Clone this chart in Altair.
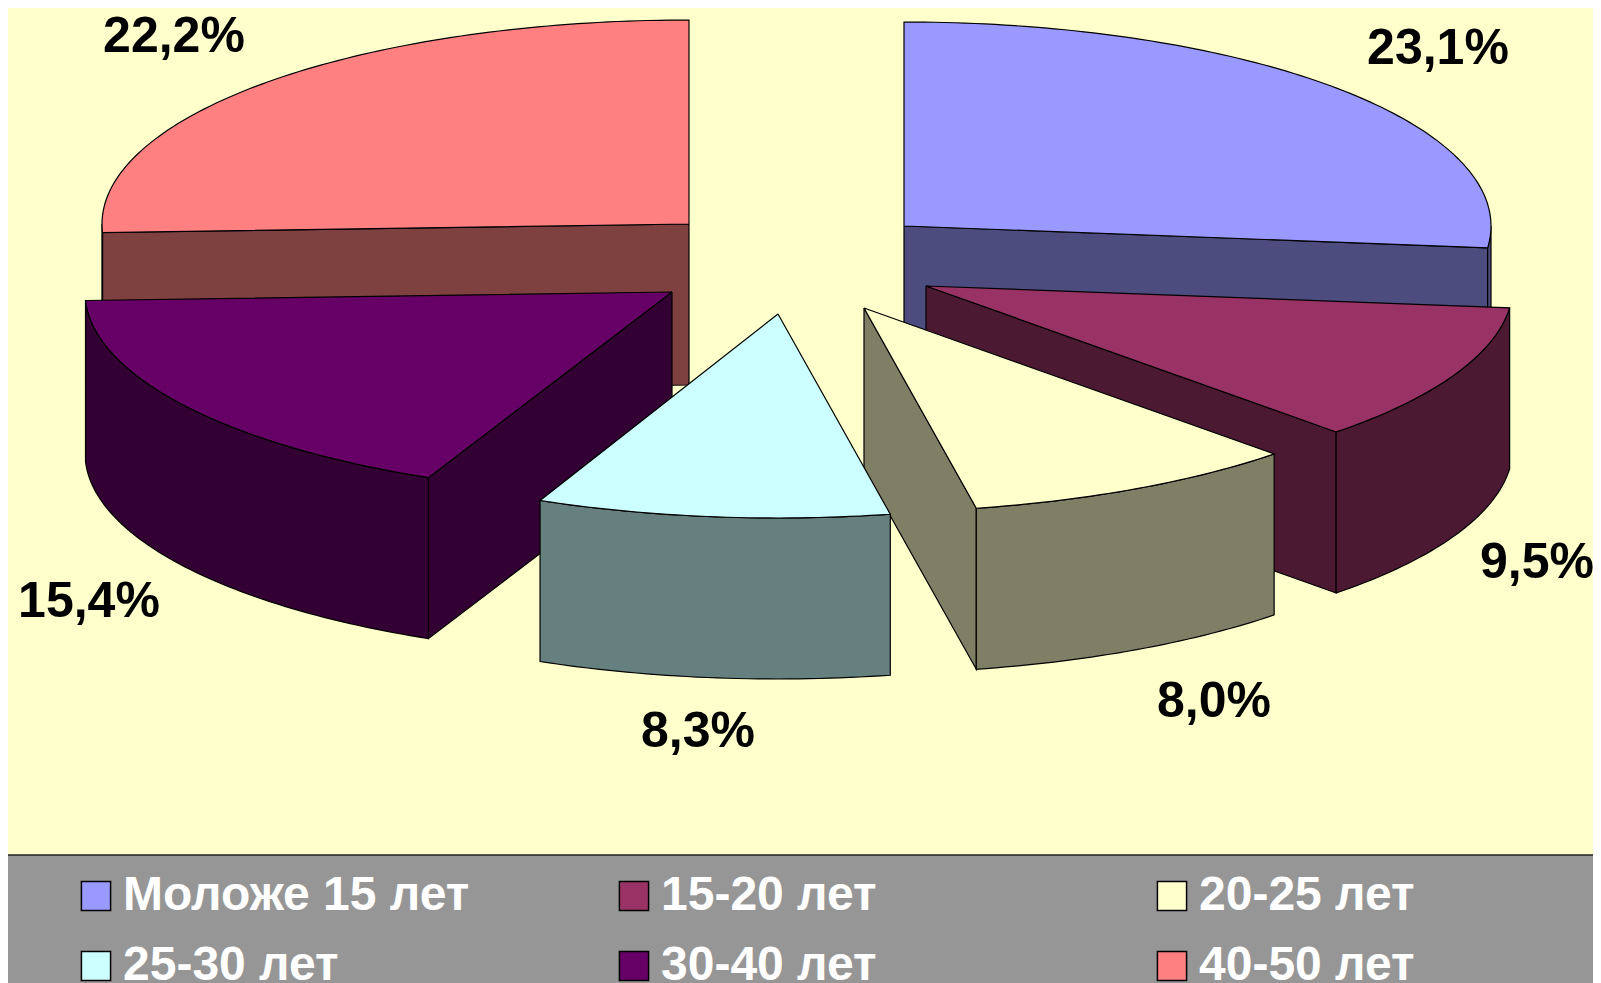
import numpy as np
import pandas as pd
import altair as alt

ages = ["Моложе 15 лет", "15-20 лет", "20-25 лет", "25-30 лет", "30-40 лет", "40-50 лет"]
shares = [23.1, 9.5, 8.0, 8.3, 15.4, 22.2]
share_labels = ["23,1%", "9,5%", "8,0%", "8,3%", "15,4%", "22,2%"]
top_colors = ["#9999FF", "#993366", "#FFFFCC", "#CCFFFF", "#660066", "#FF8080"]
wall_colors = ["#4C4C7F", "#4C1933", "#7F7F66", "#667F7F", "#330033", "#7F4040"]

# layout of the exploded 3-D pie (page pixels)
apex_x = [904, 926, 864, 778, 672, 689]
apex_y = [226, 286, 308, 314, 292, 224]
label_x = [1438, 1537, 1214, 698, 89, 174]
label_y = [49, 563, 702, 732, 602, 37]
# small perspective correction of the wedge edges, in degrees
start_nudge = [0, 0, 0, 0, 1.0, 0]
end_nudge = [0, 0, 0, 0.4, 0, 0]
RX, RY, DEPTH = 587, 204, 161
W, H = 1593, 983
M = 8
draw_order = [5, 0, 1, 2, 4, 3]

x_scale = alt.Scale(domain=[M, W], range=[0, W - M], nice=False, zero=False)
y_scale = alt.Scale(domain=[M, H], range=[0, H - M], nice=False, zero=False)
X = alt.X("x:Q", scale=x_scale, axis=None)
Y = alt.Y("y:Q", scale=y_scale, axis=None)

total = sum(shares)
edges = np.concatenate([[0], np.cumsum(shares)]) / total * 360


def rim(i, a):
    r = np.radians(a)
    return apex_x[i] + RX * np.sin(r), apex_y[i] - RY * np.cos(r)


def arc_pts(i, a0, a1):
    n = max(int(abs(a1 - a0)) + 2, 2)
    return [rim(i, a) for a in np.linspace(a0, a1, n)]


def frame(pts, age=None):
    pts = list(pts) + [pts[0]]
    df = pd.DataFrame(pts, columns=["x", "y"])
    df["seq"] = range(len(df))
    if age:
        df["age"] = age
    return df


def poly(df, color):
    return alt.Chart(df).mark_line(fill=color, stroke="#000000", strokeWidth=1.2, interpolate="linear").encode(
        x=X, y=Y, order=alt.Order("seq:Q"))


layers = []
layers.append(
    alt.Chart(pd.DataFrame({"x": [M - 10], "x2": [W + 10], "y": [855], "y2": [H + 10]}))
    .mark_rect(color="#969696", stroke="#222222", strokeWidth=1.5)
    .encode(x=X, x2="x2:Q", y=Y, y2="y2:Q")
)

for i in draw_order:
    a0, a1 = edges[i] + start_nudge[i], edges[i + 1] + end_nudge[i]
    ax, ay = apex_x[i], apex_y[i]
    for a, is_start in ((a0, True), (a1, False)):
        # radial side wall, only the side turned towards the viewer
        normal = a - 90 if is_start else a + 90
        if np.cos(np.radians(normal)) < 0 and 0 < a < 360:
            rx_, ry_ = rim(i, a)
            layers.append(poly(frame([(ax, ay), (rx_, ry_), (rx_, ry_ + DEPTH), (ax, ay + DEPTH)]), wall_colors[i]))
    lo, hi = max(a0, 90), min(a1, 270)
    if lo < hi:
        front = arc_pts(i, lo, hi)
        back = [(p, q + DEPTH) for p, q in reversed(front)]
        layers.append(poly(frame(front + back), wall_colors[i]))
    top = [(ax, ay)] + arc_pts(i, a0, a1)
    layers.append(
        alt.Chart(frame(top, ages[i]))
        .mark_line(stroke="#000000", strokeWidth=1.2)
        .encode(
            x=X, y=Y, order=alt.Order("seq:Q"),
            fill=alt.Fill(
                "age:N",
                scale=alt.Scale(domain=ages, range=top_colors),
                legend=alt.Legend(
                    title=None, orient="none", legendX=64, legendY=864, columns=3,
                    direction="horizontal", gridAlign="all",
                    symbolType="square", symbolSize=850, symbolStrokeColor="#000000",
                    symbolStrokeWidth=1.5, symbolOpacity=1,
                    labelFont="Liberation Sans", labelFontSize=48, labelFontWeight="bold",
                    labelColor="#FFFFFF", labelLimit=500, labelOffset=3,
                    columnPadding=140, rowPadding=22, padding=0,
                ),
            ),
        )
    )

labels = pd.DataFrame({"x": label_x, "y": label_y, "t": share_labels})
layers.append(
    alt.Chart(labels)
    .mark_text(font="Liberation Sans", fontSize=50, fontWeight="bold", color="#000000")
    .encode(x=X, y=Y, text="t:N")
)

chart = (
    alt.layer(*layers)
    .properties(width=W - M, height=H - M, background="#FFFFCC", padding=0,
                autosize=alt.AutoSizeParams(type="none"))
    .configure_view(stroke=None, fill="#FFFFCC")
)
chart.save("out.html", embed_options={"renderer": "svg", "actions": False})
